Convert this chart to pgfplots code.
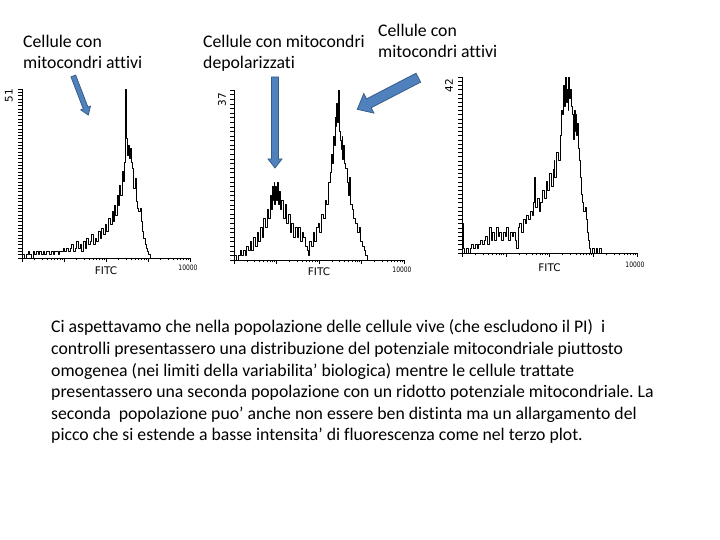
\documentclass[border=0pt]{standalone}
\usepackage{fontspec}
\setmainfont{Carlito}[RawFeature={-liga;-clig;-dlig}]
\newfontfamily\verd{DejaVu Sans}
\usepackage{pgfplots}
\pgfplotsset{compat=1.18}
\definecolor{arrowfill}{RGB}{79,129,189}
\definecolor{arrowedge}{RGB}{56,93,138}
\frenchspacing

% flow cytometry panel: x in decades (log10 FITC), y counts
\pgfplotsset{
  facs/.style={
    scale only axis, anchor=south west,
    axis lines=left, axis line style={-, line width=0.6pt},
    xmin=0, xmax=4, ymin=0,
    xtick={0,1,2,3,4}, xticklabels={}, yticklabels={},
    minor xtick={0.301,0.477,0.602,0.699,0.778,0.845,0.903,0.954,
                 1.301,1.477,1.602,1.699,1.778,1.845,1.903,1.954,
                 2.301,2.477,2.602,2.699,2.778,2.845,2.903,2.954,
                 3.301,3.477,3.602,3.699,3.778,3.845,3.903,3.954},
    tick align=outside, major tick length=4bp, minor tick length=2.5bp,
    every tick/.style={black, line width=0.5pt},
    clip=false,
  },
  hist/.style={black, const plot, line width=0.75pt, line join=bevel},
}
\newcommand\plotfont{\verd\fontsize{10.5}{12}\selectfont}

\newcommand\blockarrow[7]{% x, y, angle, length, shaft half width, head half width, head length
  \begin{scope}[shift={(#1,#2)}, rotate=#3]
    \filldraw[fill=arrowfill, draw=arrowedge, line width=0.8pt]
      (0,-#5) -- ({#4-#7},-#5) -- ({#4-#7},-#6) -- (#4,0)
      -- ({#4-#7},#6) -- ({#4-#7},#5) -- (0,#5) -- cycle;
  \end{scope}}

\begin{document}
\begin{tikzpicture}
\useasboundingbox (0,0) rectangle (720bp,540bp);
\fill[white] (0,0) rectangle (720bp,540bp);

\begin{scope}[shift={(0bp,540bp)}, x=1bp, y=-1bp,
              every node/.style={inner sep=0pt, font=\fontsize{17.8}{21.6}\selectfont}]
  % labels over the panels
  \node[anchor=base west] at (23,48) {Cellule con};
  \node[anchor=base west] at (23,69) {mitocondri attivi};
  \node[anchor=base west] at (203,48) {Cellule con mitocondri};
  \node[anchor=base west] at (203,69) {depolarizzati};
  \node[anchor=base west] at (378,37) {Cellule con};
  \node[anchor=base west] at (378,58) {mitocondri attivi};

  % arrows
  \blockarrow{73.3}{76}{-68.96}{41.8}{2.5}{5.2}{7.5}
  \blockarrow{275}{77}{-90}{91}{3.5}{7}{9}
  \blockarrow{418.3}{77.7}{-152.6}{68.7}{5}{11}{13}

  % text body
  \node[anchor=base west] at (51,333) {Ci aspettavamo che nella popolazione delle cellule vive (che escludono il PI)\ \ i};
  \node[anchor=base west] at (51,354.6) {controlli presentassero una distribuzione del potenziale mitocondriale piuttosto};
  \node[anchor=base west] at (51,376.2) {omogenea (nei limiti della variabilita’ biologica) mentre le cellule trattate};
  \node[anchor=base west] at (51,397.8) {presentassero una seconda popolazione con un ridotto potenziale mitocondriale. La};
  \node[anchor=base west] at (51,419.4) {seconda\ \ popolazione puo’ anche non essere ben distinta ma un allargamento del};
  \node[anchor=base west] at (51,441) {picco che si estende a basse intensita’ di fluorescenza come nel terzo plot.};
\end{scope}

% panel 1: controls
\begin{axis}[facs, at={(22bp,282bp)}, width=168bp, height=169bp,
             ymax=51, ytick={0,...,51}]
\addplot[hist] coordinates {
(0.00,6)(0.02,1)(0.06,0)(0.10,1)(0.14,2)(0.18,1)(0.22,0)(0.26,2)(0.30,1)(0.34,2)
(0.38,1)(0.42,2)(0.46,1)(0.50,2)(0.54,1)(0.58,2)(0.62,2)(0.66,1)(0.70,2)(0.74,1)
(0.78,2)(0.82,2)(0.86,1)(0.90,2)(0.94,2)(0.98,3)(1.02,2)(1.06,3)(1.10,2)(1.14,3)
(1.18,4)(1.22,2)(1.26,3)(1.30,5)(1.34,3)(1.38,4)(1.42,2)(1.46,5)(1.50,3)(1.54,6)
(1.58,4)(1.62,5)(1.66,7)(1.70,4)(1.74,6)(1.78,5)(1.82,8)(1.86,6)(1.90,9)(1.94,7)
(1.98,10)(2.02,8)(2.06,12)(2.10,10)(2.14,14)(2.17,11)(2.20,16)(2.23,13)(2.26,19)(2.29,16)
(2.32,22)(2.35,19)(2.38,26)(2.41,23)(2.43,29)(2.45,33)(2.47,51)(2.49,36)(2.51,31)(2.53,34)
(2.55,30)(2.57,33)(2.60,29)(2.63,27)(2.66,21)(2.69,24)(2.72,17)(2.75,15)(2.78,14)(2.81,15)
(2.84,11)(2.87,8)(2.90,6)(2.93,4)(2.96,3)(2.99,2)(3.02,1)(3.06,0)(4.00,0)
};
\path (rel axis cs:0,1) ++(-13bp,0) node[rotate=90, anchor=east, inner sep=0pt, font=\plotfont] {51};
\path (rel axis cs:0.5,0) ++(0,-13bp) node[inner sep=0pt, font=\plotfont] {FITC};
\path (rel axis cs:1,0) ++(-2bp,-10bp) node[inner sep=0pt, font=\verd\fontsize{7.5}{9}\selectfont] {\scalebox{0.8}[1]{10000}};
\end{axis}

% panel 2: treated, two populations
\begin{axis}[facs, at={(234bp,280bp)}, width=170bp, height=170bp,
             ymax=37, ytick={0,...,37}]
\addplot[hist] coordinates {
(0.00,12)(0.02,1)(0.06,0)(0.10,1)(0.14,2)(0.18,1)(0.22,2)(0.26,1)(0.30,3)(0.34,2)
(0.38,4)(0.42,2)(0.46,5)(0.50,3)(0.54,6)(0.58,4)(0.62,7)(0.66,5)(0.70,9)(0.74,7)
(0.78,11)(0.82,9)(0.86,14)(0.88,11)(0.90,16)(0.92,13)(0.94,17)(0.96,12)(0.98,16)(1.00,13)
(1.02,17)(1.04,12)(1.06,15)(1.08,11)(1.12,13)(1.16,9)(1.20,12)(1.24,8)(1.28,10)(1.32,6)
(1.36,8)(1.40,5)(1.44,7)(1.48,5)(1.52,7)(1.56,4)(1.60,6)(1.64,5)(1.68,3)(1.72,2)
(1.74,1)(1.78,4)(1.82,3)(1.86,6)(1.90,4)(1.94,7)(1.98,8)(2.02,6)(2.06,10)(2.10,9)
(2.14,13)(2.18,12)(2.22,17)(2.26,19)(2.30,23)(2.32,21)(2.34,27)(2.36,25)(2.38,31)(2.40,29)
(2.42,34)(2.44,30)(2.46,37)(2.48,28)(2.50,26)(2.52,24)(2.54,27)(2.56,22)(2.58,25)(2.60,21)
(2.62,20)(2.66,17)(2.70,14)(2.72,18)(2.74,12)(2.78,11)(2.82,9)(2.86,8)(2.90,6)(2.94,7)
(2.98,4)(3.02,3)(3.06,2)(3.10,1)(3.14,0)(4.00,0)
};
\path (rel axis cs:0,1) ++(-12bp,-3bp) node[rotate=90, anchor=east, inner sep=0pt, font=\plotfont] {37};
\path (rel axis cs:0.5,0) ++(0,-12bp) node[inner sep=0pt, font=\plotfont] {FITC};
\path (rel axis cs:1,0) ++(-2bp,-10bp) node[inner sep=0pt, font=\verd\fontsize{7.5}{9}\selectfont] {\scalebox{0.8}[1]{10000}};
\end{axis}

% panel 3: treated, broadened peak
\begin{axis}[facs, at={(462bp,287bp)}, width=175bp, height=176bp,
             ymax=42, ytick={0,...,42}]
\addplot[hist] coordinates {
(0.00,7)(0.02,1)(0.06,0)(0.10,1)(0.14,0)(0.18,1)(0.22,2)(0.26,1)(0.30,2)(0.34,1)
(0.38,2)(0.42,3)(0.46,2)(0.50,3)(0.54,4)(0.58,2)(0.62,6)(0.66,3)(0.70,5)(0.74,3)
(0.78,6)(0.82,4)(0.86,5)(0.90,3)(0.94,5)(0.98,4)(1.02,6)(1.06,3)(1.10,5)(1.14,4)
(1.18,5)(1.22,3)(1.24,1)(1.28,6)(1.32,7)(1.36,5)(1.40,8)(1.44,7)(1.48,9)(1.52,8)
(1.56,10)(1.60,9)(1.64,12)(1.66,18)(1.68,11)(1.72,13)(1.76,10)(1.80,12)(1.84,15)(1.88,13)
(1.92,17)(1.96,15)(2.00,19)(2.04,16)(2.08,20)(2.10,22)(2.12,18)(2.16,24)(2.20,22)(2.24,28)
(2.26,30)(2.28,34)(2.30,33)(2.32,40)(2.34,35)(2.36,42)(2.38,36)(2.40,39)(2.42,34)(2.44,42)
(2.46,37)(2.48,39)(2.50,35)(2.52,33)(2.54,27)(2.56,34)(2.58,29)(2.60,33)(2.62,28)(2.64,31)
(2.66,25)(2.68,22)(2.70,18)(2.72,14)(2.74,12)(2.78,10)(2.82,11)(2.84,8)(2.86,5)(2.88,3)
(2.90,1)(2.94,0)(2.98,1)(3.02,0)(3.06,1)(3.10,0)(3.14,1)(3.18,0)(4.00,0)
};
\path (rel axis cs:0,1) ++(-13bp,-2bp) node[rotate=90, anchor=east, inner sep=0pt, font=\plotfont] {42};
\path (rel axis cs:0.5,0) ++(0,-15bp) node[inner sep=0pt, font=\plotfont] {FITC};
\path (rel axis cs:1,0) ++(-2bp,-12bp) node[inner sep=0pt, font=\verd\fontsize{7.5}{9}\selectfont] {\scalebox{0.8}[1]{10000}};
\end{axis}
\end{tikzpicture}
\end{document}
